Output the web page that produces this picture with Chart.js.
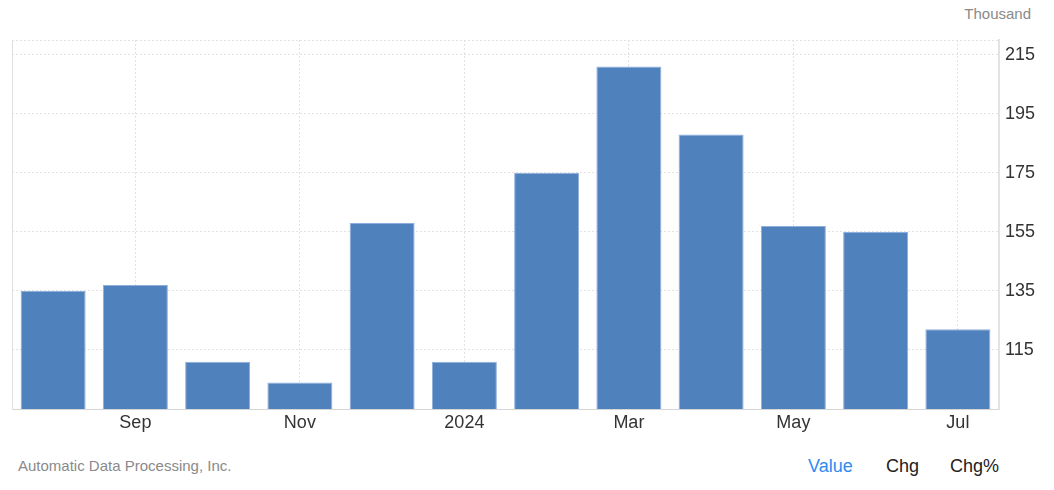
<!DOCTYPE html>
<html>
<head>
<meta charset="utf-8">
<script src="https://cdn.jsdelivr.net/npm/chart.js@4.4.1/dist/chart.umd.min.js"></script>
<style>
  html, body { margin: 0; padding: 0; background: #fff; }
  body { width: 1054px; height: 490px; position: relative; overflow: hidden;
         font-family: Arial, "Liberation Sans", sans-serif; }
  #wrap { position: absolute; left: 0; top: 0; width: 1054px; height: 440px; }
  .unit { position: absolute; right: 23px; top: 5px; font-size: 15px; color: #8a8a8a; }
  .src { position: absolute; left: 18px; top: 457px; font-size: 15px; color: #8a8a8a; }
  .tabs { position: absolute; top: 456px; font-size: 18px; color: #222; }
</style>
</head>
<body>
<div class="unit">Thousand</div>
<div id="wrap"><canvas id="chart"></canvas></div>
<div class="src">Automatic Data Processing, Inc.</div>
<div class="tabs" style="left:808px;color:#2d8cf0">Value</div>
<div class="tabs" style="left:886px">Chg</div>
<div class="tabs" style="left:950px">Chg%</div>
<script>
// ADP employment change, thousands
const months = ['Aug', 'Sep', 'Oct', 'Nov', 'Dec', '2024', 'Feb', 'Mar', 'Apr', 'May', 'Jun', 'Jul'];
const values = [135, 137, 111, 104, 158, 111, 175, 211, 188, 157, 155, 122];
const yTicks = [115, 135, 155, 175, 195, 215];
const yMin = 95;
const yMax = 220;

const gridGray = '#e2e2e2';
const font = { family: 'Arial, "Liberation Sans", sans-serif', size: 18 };

const ctx = document.getElementById('chart');
new Chart(ctx, {
    type: 'bar',
    data: {
        labels: months,
        datasets: [{
            data: values,
            backgroundColor: '#4f81bd',
            borderColor: '#8eaedb',
            borderWidth: 1,
            categoryPercentage: 1,
            barPercentage: 0.79,
        }],
    },
    options: {
        responsive: true,
        maintainAspectRatio: false,
        animation: false,
        layout: { padding: { top: 40, left: 12, right: 0, bottom: 0 } },
        plugins: { legend: { display: false }, tooltip: { enabled: false } },
        scales: {
            x: {
                offset: true,
                afterFit: function (scale) { scale.height = 31; },
                grid: {
                    offset: false,
                    drawTicks: false,
                    color: function (c) { return c.index % 2 === 1 ? gridGray : 'rgba(0,0,0,0)'; },
                },
                border: { display: true, color: '#d6d6d6', width: 1, dash: [2, 2] },
                ticks: {
                    autoSkip: false,
                    maxRotation: 0,
                    padding: 3,
                    color: '#333',
                    font: font,
                    callback: function (v, i) { return i % 2 === 1 ? months[i] : ''; },
                },
            },
            y: {
                position: 'right',
                min: yMin,
                max: yMax,
                afterBuildTicks: function (axis) {
                    axis.ticks = yTicks.concat([yMax]).map(function (v) { return { value: v }; });
                },
                afterFit: function (scale) { scale.width = 55; },
                grid: {
                    drawTicks: false,
                    color: gridGray,
                },
                border: { display: true, color: '#e3e3e3', width: 2, dash: [2, 2] },
                ticks: {
                    padding: 6,
                    color: '#333',
                    font: font,
                    callback: function (v) { return yTicks.indexOf(v) >= 0 ? v : ''; },
                },
            },
            yl: {
                position: 'left',
                min: yMin,
                max: yMax,
                afterFit: function (scale) { scale.width = 0; },
                grid: { display: false },
                border: { display: true, color: '#e0e0e0', width: 1 },
                ticks: { display: false },
            },
        },
    },
});
</script>
</body>
</html>
